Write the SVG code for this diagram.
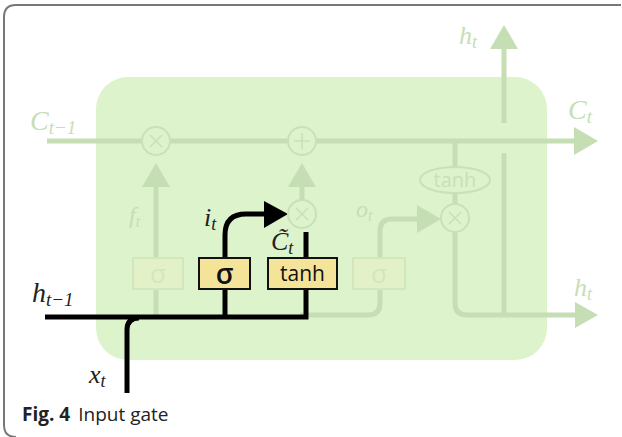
<svg xmlns="http://www.w3.org/2000/svg" width="622" height="437" viewBox="0 0 622 437">
<style>
.f{fill:none;stroke:#c6deb4;stroke-width:5}
.fa{fill:#c6deb4}
.fc{fill:#dcf3cc;stroke:#c9e0b8;stroke-width:2}
.fx{fill:none;stroke:#c9e0b8;stroke-width:1.5}
.ft{font-family:"Liberation Serif",serif;font-style:italic;fill:#c6deb4}
.bt{font-family:"Liberation Serif",serif;font-style:italic;fill:#222}
.k{fill:none;stroke:#000;stroke-width:5}
.yb{fill:#f4e49a;stroke:#111;stroke-width:2}
.fb{fill:#e2f1c8;stroke:#d3e7bd;stroke-width:2}
.st{font-family:"Open Sans","DejaVu Sans",sans-serif;text-anchor:middle}
</style>
<rect width="622" height="437" fill="#fff"/>
<path d="M621,5 H16 Q4,5 4,17 V425 Q4,437 16,437" fill="none" stroke="#777" stroke-width="2"/>
<rect id="cell" x="96" y="77" width="451" height="283" rx="32" fill="#dcf3cc"/>
<g id="connectors">
<path class="f" d="M47,141 H578"/>
<polygon class="fa" points="574,127 598,141 574,155"/>
<path class="f" d="M156,315 V185"/>
<polygon class="fa" points="142,187 156,163 170,187"/>
<path class="f" d="M302,205 V185"/>
<polygon class="fa" points="288,187 302,163 316,187"/>
<path class="f" d="M300,315 H368 Q380,315 380,303 V231 Q380,219 392,219 H420"/>
<polygon class="fa" points="417,205 441,219 417,233"/>
<path class="f" d="M455,141 V204 M455,232 V303 Q455,315 467,315 H578"/>
<polygon class="fa" points="575,302 598,315 575,328"/>
<path class="f" d="M504,315 V153 M504,123 V47"/>
<polygon class="fa" points="490,49 504,25 518,49"/>
<path class="k" d="M45,317 H306 V232"/>
<path class="k" d="M127,393 V330 Q127,318 139,318"/>
<path class="k" d="M225,317 V235 Q225,214 246,214 H266"/>
<polygon points="264,201 288,214 264,228" fill="#000"/>
</g>
<g id="mul1"><circle class="fc" cx="156" cy="141" r="14"/><path class="fx" d="M150,135 L162,147 M162,135 L150,147"/></g>
<g id="add"><circle class="fc" cx="302" cy="141" r="14"/><path class="fx" d="M302,133 V149 M294,141 H310"/></g>
<g id="mul2"><circle class="fc" cx="302" cy="214" r="14"/><path class="fx" d="M296,208 L308,220 M308,208 L296,220"/></g>
<g id="tanh2"><ellipse class="fc" cx="455" cy="180" rx="35" ry="13"/><text class="st" x="455" y="187" font-size="20" fill="#c9e0b8">tanh</text></g>
<g id="mul3"><circle class="fc" cx="455" cy="218" r="14"/><path class="fx" d="M449,212 L461,224 M461,212 L449,224"/></g>
<g id="sig1"><rect class="fb" x="133" y="258" width="50" height="31"/><text class="st" x="158" y="283" font-size="26" fill="#d3e7bd">σ</text></g>
<g id="sig2"><rect class="yb" x="199" y="258" width="51" height="31"/><text class="st" x="224.5" y="284" font-size="28" font-weight="600" fill="#111">σ</text></g>
<g id="tanh1"><rect class="yb" x="268" y="258" width="69" height="31"/><text class="st" x="302.5" y="281" font-size="21" fill="#111">tanh</text></g>
<g id="sig3"><rect class="fb" x="353" y="258" width="52" height="31"/><text class="st" x="379" y="283" font-size="26" fill="#d3e7bd">σ</text></g>
<g id="labels">
<text class="ft" x="30" y="130" font-size="28">C<tspan font-size="19" dy="4">t−1</tspan></text>
<text class="ft" x="568" y="119" font-size="28">C<tspan font-size="19" dy="4">t</tspan></text>
<text class="ft" x="459" y="44" font-size="26">h<tspan font-size="18" dy="4">t</tspan></text>
<text class="ft" x="574" y="296" font-size="26">h<tspan font-size="18" dy="4">t</tspan></text>
<text class="ft" x="129" y="223" font-size="24">f<tspan font-size="16" dy="4">t</tspan></text>
<text class="ft" x="356" y="217" font-size="24">o<tspan font-size="16" dy="4">t</tspan></text>
<text class="bt" x="204" y="226" font-size="26">i<tspan font-size="18" dy="4">t</tspan></text>
<text class="bt" x="271" y="250" font-size="26">C̃<tspan font-size="18" dy="4">t</tspan></text>
<text class="bt" x="32" y="302" font-size="28">h<tspan font-size="19" dy="4">t−1</tspan></text>
<text class="bt" x="89" y="383" font-size="26">x<tspan font-size="18" dy="4">t</tspan></text>
</g>
<text x="22" y="421" font-family="'Open Sans','DejaVu Sans',sans-serif" font-size="19" fill="#222"><tspan font-weight="bold">Fig. 4</tspan><tspan dx="8">Input gate</tspan></text>
</svg>
